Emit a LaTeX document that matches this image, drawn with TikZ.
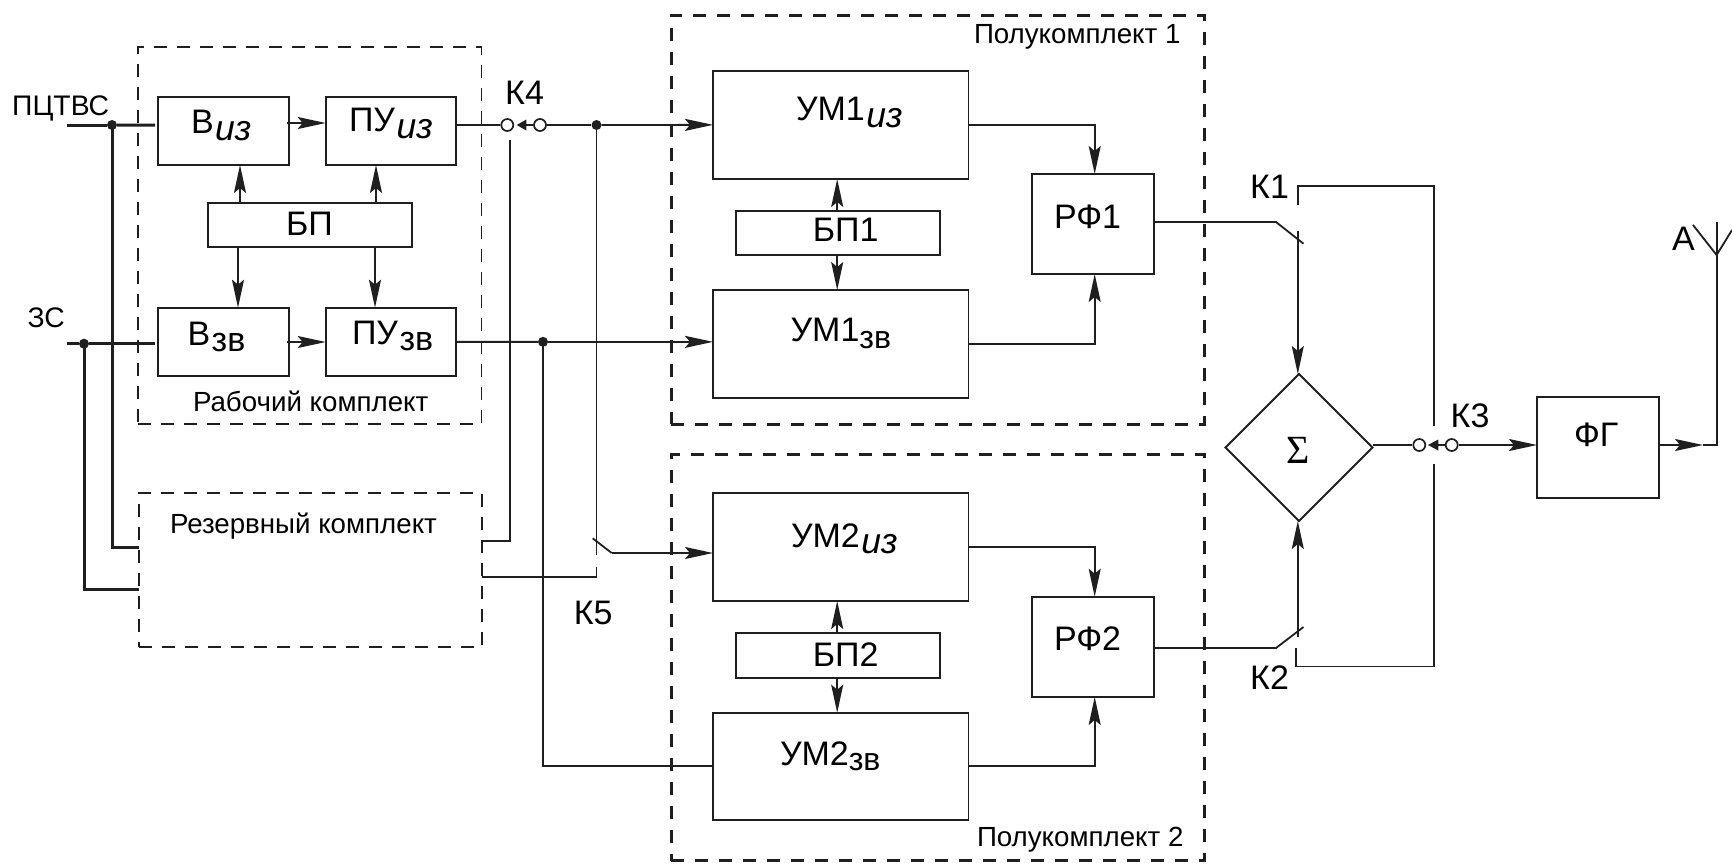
\documentclass[tikz,border=0pt]{standalone}
\usepackage{fontspec}
\setmainfont{Liberation Sans}
\newfontfamily\sumfont{Liberation Serif}
\usetikzlibrary{arrows.meta,shapes.geometric}
\definecolor{ink}{gray}{0.12}
\newcommand\boxat[7]{%
  \pgfmathsetmacro\bw{#5-#3}\pgfmathsetmacro\bh{#6-#4}%
  \pgfmathsetmacro\cx{(#3+#5)/2}\pgfmathsetmacro\cy{(#4+#6)/2}%
  \node[#1,minimum width=\bw pt,minimum height=\bh pt] (#2) at (\cx,\cy) {#7};}
\newcommand\txtat[3]{%
  \pgfmathsetmacro\dx{#1-\cx}\pgfmathsetmacro\dy{\cy-#2}%
  \makebox[0pt][l]{\hspace*{\dx pt}\raisebox{\dy pt}[0pt][0pt]{#3}}}
\newcommand\lowr[2]{\raisebox{-#1pt}{\fontsize{32}{34}\selectfont #2}}
\newcommand\lowb[2]{\kern1.5pt\raisebox{-#1pt}{\fontsize{34}{36}\selectfont #2}}
\newcommand\lowi[2]{\kern1.5pt\raisebox{-#1pt}{\fontsize{35.5}{37}\selectfont\itshape #2}}
\tikzset{
  x=1pt,y=-1pt,
  block/.style={draw=ink,line width=1.9pt,inner sep=0pt,outer sep=0pt,font=\fontsize{34}{36}\selectfont},
  thindash/.style={draw=ink,line width=1.6pt,dash pattern=on 13pt off 10pt,inner sep=0pt,outer sep=0pt,font=\fontsize{27.7}{30}\selectfont},
  thickdash/.style={draw=ink,line width=3pt,dash pattern=on 13pt off 11pt,inner sep=0pt,outer sep=0pt,font=\fontsize{27.7}{30}\selectfont},
  wire/.style={draw=ink,line width=1.8pt},
  heavy/.style={draw=ink,line width=3pt},
  arr/.style={wire,-{Stealth[length=28pt,width=12pt,inset=5pt]}},
  dot/.style={circle,fill=ink,inner sep=0pt,minimum size=10pt},
  contact/.style={circle,draw=ink,line width=1.7pt,inner sep=0pt,minimum size=12pt},
  lbl/.style={anchor=base west,inner sep=0pt,font=\fontsize{34}{36}\selectfont,text=black},
  small/.style={anchor=base west,inner sep=0pt,font=\fontsize{28.3}{30}\selectfont,text=black},
}
\begin{document}
\begin{tikzpicture}
\useasboundingbox (0,0) rectangle (1732,863);
\fill[white] (0,0) rectangle (1732,863);
% dashed groups
\boxat{thindash}{work}{138}{47}{481.5}{424}{\txtat{193}{411.7}{Рабочий комплект}}
\boxat{thindash}{rez}{139}{493}{482}{647}{\txtat{170}{533}{Резервный комплект}}
\boxat{thickdash}{half1}{671}{15}{1204}{424}{\txtat{974}{43}{Полукомплект 1}}
\boxat{thickdash}{half2}{671}{454}{1204}{860.5}{\txtat{977}{846.7}{Полукомплект 2}}
% blocks
\boxat{block}{viz}{157.7}{96.7}{289}{165}{\txtat{191}{133}{В\lowi{7}{из}}}
\boxat{block}{puiz}{325.7}{96.7}{456}{165}{\txtat{349}{131.7}{ПУ\lowi{6.5}{из}}}
\boxat{block}{bp}{208}{202.7}{412}{246.7}{\txtat{286}{235}{БП}}
\boxat{block}{vzv}{157.7}{307.7}{289}{376}{\txtat{187.5}{345}{В\lowb{6.7}{зв}}}
\boxat{block}{puzv}{325.7}{307.7}{456}{376}{\txtat{352}{344}{ПУ\lowb{6}{зв}}}
\boxat{block}{um1iz}{713}{70.7}{968.5}{179}{\txtat{796}{120.7}{УМ1\lowi{6.3}{из}}}
\boxat{block}{um1zv}{713}{290}{968.5}{398}{\txtat{790.6}{341.7}{УМ1\lowr{6.3}{зв}}}
\boxat{block}{bp1}{736}{210.7}{940.4}{254.7}{\txtat{812.8}{241.7}{БП1}}
\boxat{block}{rf1}{1032}{174}{1154}{274}{\txtat{1054}{228}{РФ1}}
\boxat{block}{um2iz}{713}{493}{968.5}{601}{\txtat{791}{547.3}{УМ2\lowi{5.7}{из}}}
\boxat{block}{um2zv}{713}{712.7}{968.5}{820}{\txtat{780}{765}{УМ2\lowr{5}{зв}}}
\boxat{block}{bp2}{736}{632.7}{940.4}{677.7}{\txtat{812.8}{666.7}{БП2}}
\boxat{block}{rf2}{1032}{596.7}{1154}{697}{\txtat{1054}{650}{РФ2}}
\boxat{block}{fg}{1537}{397}{1658.6}{498}{\txtat{1574}{446.8}{ФГ}}
\pgfmathsetmacro\cx{1299}\pgfmathsetmacro\cy{447.5}
\node[diamond,aspect=1,draw=ink,line width=1.9pt,inner sep=0pt,outer sep=0pt,minimum width=147pt,minimum height=147pt,font=\fontsize{40}{42}\sumfont] (sum) at (1299,447.5) {\txtat{1286}{463}{Σ}};
% labels
\node[small] (tpc) at (12,115) {ПЦТВС};
\node[small] (tzs) at (27.5,327.7) {ЗС};
\node[lbl] (tk1) at (1250,198) {К1};
\node[lbl] (tk2) at (1250,689) {К2};
\node[lbl] (tk3) at (1450.5,427) {К3};
\node[lbl] (tk4) at (505,104) {К4};
\node[lbl] (tk5) at (573.7,624) {К5};
\node[lbl] (ta) at (1672,250) {А};
% junctions, contacts and free ends
\coordinate (pcs) at (67,125);
\coordinate (zss) at (67,343.7);
\node[dot] (d1) at (112,125) {};
\node[dot] (d2) at (84,343.7) {};
\node[dot] (d3) at (596.5,125) {};
\node[dot] (d4) at (543,341.85) {};
\node[contact] (k4a) at (507.3,125) {};
\node[contact] (k4b) at (540,125) {};
\node[contact] (k3a) at (1419.3,445) {};
\node[contact] (k3b) at (1451.7,445) {};
\coordinate (k4v) at (510,140);
\coordinate (k5e) at (596.5,555);
\coordinate (k5p) at (592.7,538.3);
\coordinate (k5k) at (611.7,553);
\coordinate (k5l) at (596.5,566.7);
\coordinate (k1a) at (1276,222);
\coordinate (k1b) at (1303.5,243.7);
\coordinate (k1c) at (1297.8,231);
\coordinate (k1top) at (1297.8,205);
\coordinate (k1rail) at (1297.8,186);
\coordinate (k3top) at (1434,425.5);
\coordinate (k3bot) at (1434,464);
\coordinate (k2a) at (1276,648);
\coordinate (k2b) at (1303.5,627);
\coordinate (k2c) at (1297.8,637);
\coordinate (k2low) at (1296,647.6);
\coordinate (k2rail) at (1296,666.5);
\coordinate (antm) at (1703,445);
\coordinate (antb) at (1716.6,445);
\coordinate (antt) at (1716.6,222);
\coordinate (antv) at (1716.6,255);
\coordinate (antl) at (1693,225);
\coordinate (antr) at (1732,230);
% inputs
\draw[heavy] (pcs) -- (d1);
\draw[heavy,shorten >=2.5pt] (d1) -- ([yshift=5.85pt]viz.west);
\draw[heavy] (zss) -- (d2);
\draw[heavy,shorten >=2.5pt] (d2) -- ([yshift=-1.85pt]vzv.west);
\draw[heavy] (d1.center) |- ([yshift=23pt]rez.west);
\draw[heavy] (d2.center) |- ([yshift=-19pt]rez.west);
% working set
\draw[arr] ([xshift=-2pt,yshift=7.85pt]viz.east) -- ([yshift=7.85pt]puiz.west);
\draw[arr] ([xshift=-2pt,yshift=-0.15pt]vzv.east) -- ([yshift=-0.15pt]puzv.west);
\draw[arr] ([xshift=-70pt]bp.north) -- ([xshift=-70pt]bp.north |- viz.south);
\draw[arr] ([xshift=66pt]bp.north) -- ([xshift=66pt]bp.north |- puiz.south);
\draw[arr] ([xshift=-72pt]bp.south) -- ([xshift=-72pt]bp.south |- vzv.north);
\draw[arr] ([xshift=65pt]bp.south) -- ([xshift=65pt]bp.south |- puzv.north);
% outputs of the working set
\draw[wire] ([yshift=5.85pt]puiz.east) -- (k4a);
\fill[ink] ([xshift=9.4pt]k4a.center) -- ([xshift=19pt,yshift=5.5pt]k4a.center) -- ([xshift=19pt,yshift=-5.5pt]k4a.center) -- cycle;
\draw[wire] ([xshift=19pt]k4a.center) -- (k4b);
\draw[wire] (k4b) -- (d3);
\draw[arr] (d3) -- (um1iz.west);
\draw[wire] (puzv.east) -- (d4);
\draw[arr] (d4) -- ([yshift=2.15pt]um1zv.west);
\draw[wire] (d4.center) |- (um2zv.west);
% reserve set
\draw[wire] (k4v) |- ([yshift=29pt]rez.east);
\draw[wire] (d3.center) -- (k5e);
\draw[wire] (k5p) -- (k5k);
\draw[arr] (k5k) -- ([yshift=-6pt]um2iz.west);
\draw[wire] (k5l) |- ([yshift=-7pt]rez.east);
% half set 1
\draw[arr] ([xshift=-1pt]bp1.north) -- ([xshift=-1pt]bp1.north |- um1iz.south);
\draw[arr] ([xshift=-1pt]bp1.south) -- ([xshift=-1pt]bp1.south |- um1zv.north);
\draw[arr] (um1iz.east) -| ([xshift=1.7pt]rf1.north);
\draw[arr] (um1zv.east) -| ([xshift=1.7pt]rf1.south);
% half set 2
\draw[arr] ([xshift=-1pt]bp2.north) -- ([xshift=-1pt]bp2.north |- um2iz.south);
\draw[arr] ([xshift=-1pt]bp2.south) -- ([xshift=-1pt]bp2.south |- um2zv.north);
\draw[arr] (um2iz.east) -| ([xshift=1.7pt]rf2.north);
\draw[arr] (um2zv.east) -| ([xshift=1.7pt]rf2.south);
% combiner
\draw[wire] ([yshift=2pt]rf1.east) -- (k1a) -- (k1b);
\draw[arr] (k1c) -- (k1c |- sum.north);
\draw[wire] (k1top) -- (k1rail) -| (k3top);
\draw[wire] ([yshift=-1.15pt]rf2.east) -- (k2a) -- (k2b);
\draw[arr] (k2c) -- (k2c |- sum.south);
\draw[wire] (k2low) -- (k2rail) -| (k3bot);
\draw[wire] (sum.east |- k3a) -- (k3a);
\fill[ink] ([xshift=8.7pt]k3a.center) -- ([xshift=19pt,yshift=5.5pt]k3a.center) -- ([xshift=19pt,yshift=-5.5pt]k3a.center) -- cycle;
\draw[wire] ([xshift=19pt]k3a.center) -- (k3b);
\draw[arr] (k3b) -- ([yshift=2.5pt]fg.west);
\draw[arr] ([yshift=2.5pt]fg.east) -- (antm);
\draw[wire] (antm) -- (antb) -- (antt);
\draw[wire] (antl) -- (antv) -- (antr);
\end{tikzpicture}
\end{document}
